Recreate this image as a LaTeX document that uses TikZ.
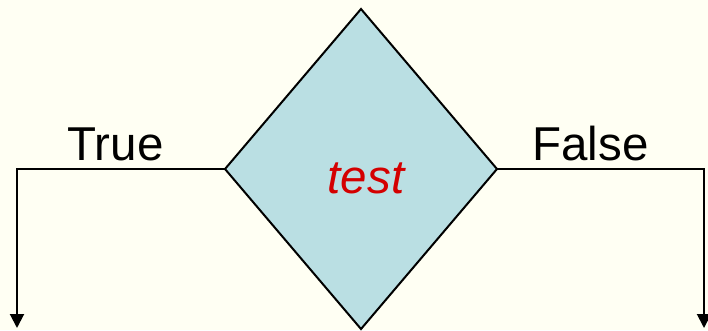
\documentclass[tikz,border=0pt]{standalone}
\usepackage{fontspec}
\setmainfont{Liberation Sans}
\usetikzlibrary{arrows.meta}
\definecolor{bgcol}{HTML}{FFFFF3}
\definecolor{diafill}{HTML}{BADFE3}
\definecolor{testred}{HTML}{D40000}
\tikzset{
  conn/.style={line width=2pt, -{Triangle[width=14pt,length=14pt]}},
  lbl/.style={font=\fontsize{47.5}{50}\selectfont, anchor=base, inner sep=0pt},
}
\begin{document}
\begin{tikzpicture}[x=1pt,y=-1pt]
\fill[bgcol] (0,0) rectangle (708,330);
\useasboundingbox (0,0) rectangle (708,330);
\coordinate (top) at (361,9);
\coordinate (bot) at (361,329);
\coordinate (lft) at (225,169);
\coordinate (rgt) at (497,169);
\filldraw[fill=diafill, draw=black, line width=2pt, line join=miter] (top) -- (rgt) -- (bot) -- (lft) -- cycle;
\node[lbl, text=testred, font=\fontsize{47.5}{50}\selectfont\itshape] (test) at (366,193) {test};
\coordinate (lc) at (17,169);
\coordinate (le) at (17,328);
\coordinate (rc) at (704,169);
\coordinate (re) at (704,328);
\draw[conn] (lft) -- (lc) -- (le);
\draw[conn] (rgt) -- (rc) -- (re);
\node[lbl] (true) at (115.5,160) {True};
\node[lbl] (false) at (590.5,160) {False};
\end{tikzpicture}
\end{document}
